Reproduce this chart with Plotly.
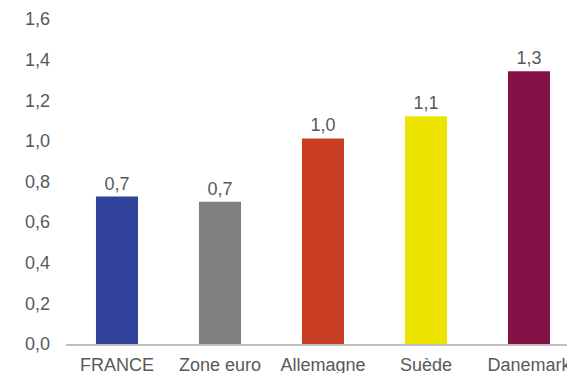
import plotly.graph_objects as go

categories = ["FRANCE", "Zone euro", "Allemagne", "Suède", "Danemark"]
values = [0.726, 0.70, 1.012, 1.121, 1.343]
colors = ["#31429A", "#808080", "#C93E22", "#EDE300", "#841246"]
y_ticks = [0, 0.2, 0.4, 0.6, 0.8, 1.0, 1.2, 1.4, 1.6]

font_family = "Liberation Sans, Arial, sans-serif"
text_color = "#595959"
font_size = 18

fig = go.Figure(
    go.Bar(
        x=categories,
        y=values,
        marker=dict(color=colors, line=dict(width=0)),
        width=0.408,
        texttemplate="%{y:.1f}",
        textposition="outside",
        textfont=dict(family=font_family, size=font_size, color=text_color),
        cliponaxis=False,
        hoverinfo="skip",
    )
)

fig.update_layout(
    width=567,
    height=373,
    margin=dict(l=66, r=0, t=19, b=29, autoexpand=False),
    paper_bgcolor="white",
    plot_bgcolor="white",
    separators=",.",
    showlegend=False,
    font=dict(family=font_family, size=font_size, color=text_color),
)

fig.update_xaxes(
    range=[-0.495, 4.369],
    showline=True,
    linecolor="#BFBFBF",
    linewidth=2,
    showgrid=False,
    ticks="",
    ticklabelstandoff=3,
    automargin=False,
    tickfont=dict(family=font_family, size=font_size, color=text_color),
    fixedrange=True,
)

fig.update_yaxes(
    range=[0, 1.6],
    tickvals=y_ticks,
    tickformat=".1f",
    showgrid=False,
    zeroline=False,
    showline=False,
    ticks="",
    ticklabelstandoff=15,
    automargin=False,
    tickfont=dict(family=font_family, size=font_size, color=text_color),
    fixedrange=True,
)

fig.write_html(
    "out.html",
    config={"displayModeBar": False},
    post_script="document.body.style.margin='0';document.body.style.overflow='hidden';",
)
